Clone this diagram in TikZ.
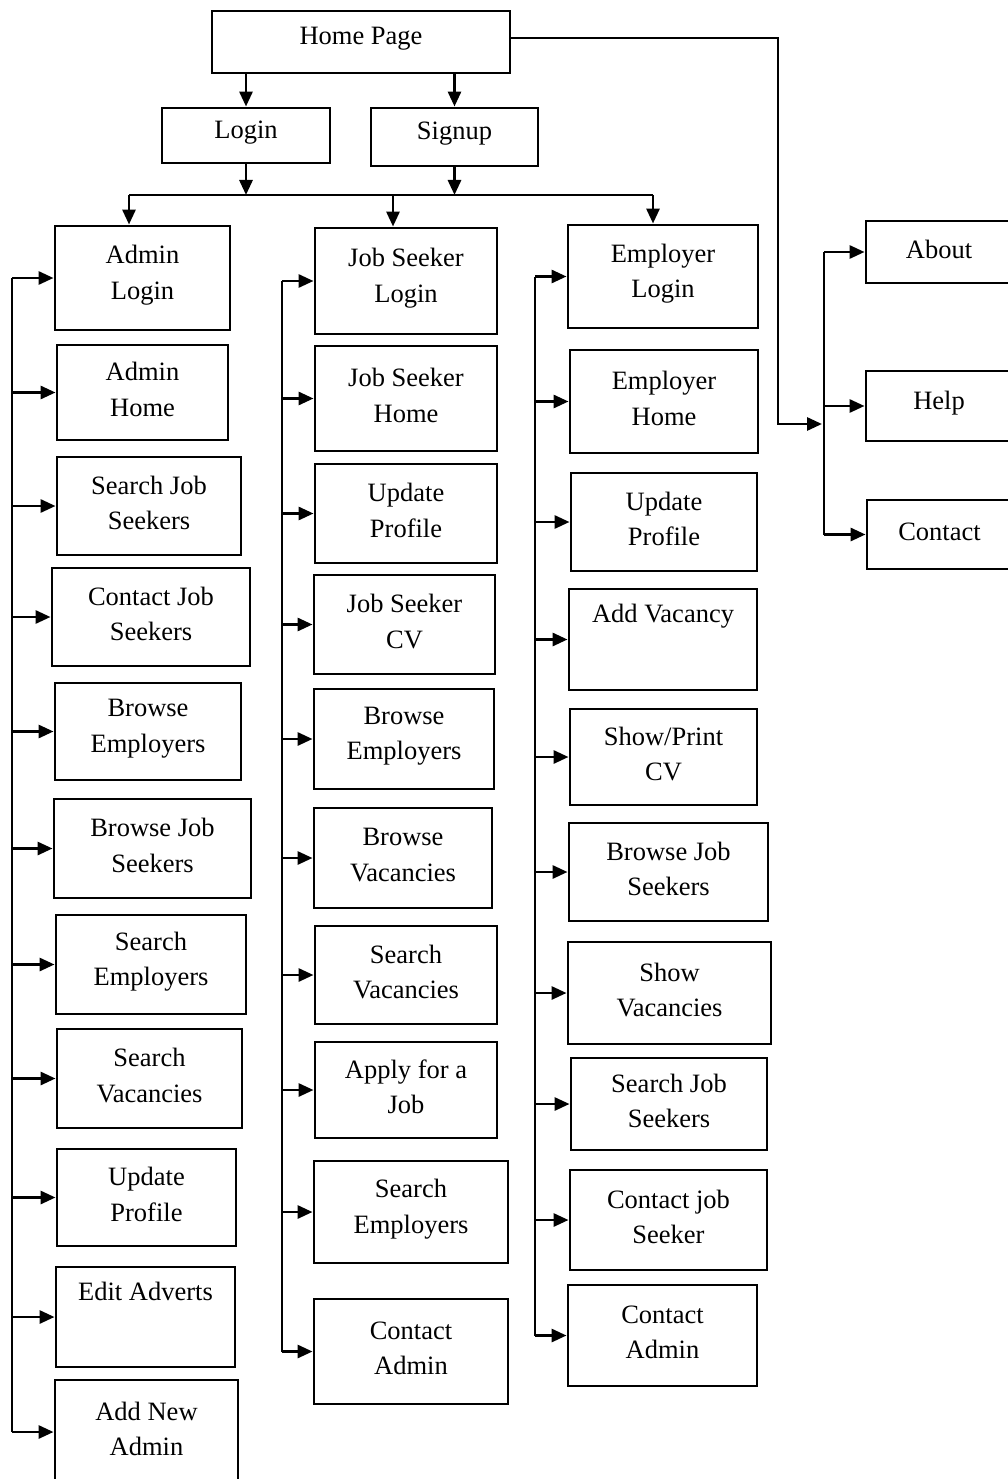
\documentclass[tikz,border=0pt]{standalone}
\usepackage{fontspec}
\setmainfont{Liberation Serif}
\usetikzlibrary{arrows.meta}
\tikzset{
  box/.style={draw, line width=2.9pt, inner sep=0pt},
  txt/.style={inner sep=0pt, align=center,
    font=\fontsize{26.5pt}{35.5pt}\selectfont},
  arr/.style={line width=2.9pt, -{Triangle[length=15pt,width=13pt]}},
  ln/.style={line width=2.9pt}
}
\newcommand\mybox[6]{\node[box, minimum width={#4-#2}, minimum height={#5-#3}] (#1) at ({(#2+#4)/2},{(#3+#5)/2}) {};
  \node[txt] (#1-t) at ([yshift=3pt]#1.center) {#6};}
\begin{document}
\begin{tikzpicture}[x=1pt,y=-1pt]
\useasboundingbox (0,0) rectangle (1008,1479);
\clip (0,0) rectangle (1008,1479);
% top
\mybox{home}{212}{11}{510}{73}{Home Page}
\mybox{login}{162}{108}{330}{163}{Login}
\mybox{signup}{371}{108}{538}{166}{Signup}
% admin column
\mybox{a1}{55}{226}{230}{330}{Admin\\Login}
\mybox{a2}{57}{345}{228}{440}{Admin\\Home}
\mybox{a3}{57}{457}{241}{555}{Search Job\\Seekers}
\mybox{a4}{52}{568}{250}{666}{Contact Job\\Seekers}
\mybox{a5}{55}{683}{241}{780}{Browse\\Employers}
\mybox{a6}{54}{799}{251}{898}{Browse Job\\Seekers}
\mybox{a7}{56}{915}{246}{1014}{Search\\Employers}
\mybox{a8}{57}{1029}{242}{1128}{Search\\Vacancies}
\mybox{a9}{57}{1149}{236}{1246}{Update\\Profile}
\mybox{a10}{56}{1267}{235}{1367}{Edit Adverts\\\strut}
\mybox{a11}{55}{1380}{238}{1484}{Add New\\Admin}
% job seeker column
\mybox{j1}{315}{228}{497}{334}{Job Seeker\\Login}
\mybox{j2}{315}{346}{497}{451}{Job Seeker\\Home}
\mybox{j3}{315}{464}{497}{563}{Update\\Profile}
\mybox{j4}{314}{575}{495}{674}{Job Seeker\\CV}
\mybox{j5}{314}{689}{494}{789}{Browse\\Employers}
\mybox{j6}{314}{808}{492}{908}{Browse\\Vacancies}
\mybox{j7}{315}{926}{497}{1024}{Search\\Vacancies}
\mybox{j8}{315}{1042}{497}{1138}{Apply for a\\Job}
\mybox{j9}{314}{1161}{508}{1263}{Search\\Employers}
\mybox{j10}{314}{1299}{508}{1404}{Contact\\Admin}
% employer column
\mybox{e1}{568}{225}{758}{328}{Employer\\Login}
\mybox{e2}{570}{350}{758}{453}{Employer\\Home}
\mybox{e3}{571}{473}{757}{571}{Update\\Profile}
\mybox{e4}{569}{589}{757}{690}{Add Vacancy\\\strut}
\mybox{e5}{570}{709}{757}{805}{Show/Print\\CV}
\mybox{e6}{569}{823}{768}{921}{Browse Job\\Seekers}
\mybox{e7}{568}{942}{771}{1044}{Show\\Vacancies}
\mybox{e8}{571}{1058}{767}{1150}{Search Job\\Seekers}
\mybox{e9}{570}{1170}{767}{1270}{Contact job\\Seeker}
\mybox{e10}{568}{1285}{757}{1386}{Contact\\Admin}
% right column
\mybox{about}{866}{221}{1012}{283}{About}
\mybox{help}{866}{371}{1012}{441}{Help}
\mybox{contact}{867}{500}{1012}{569}{Contact}
% top connectors
\draw[arr] (login.north |- home.south) -- (login.north);
\draw[arr] (signup.north |- home.south) -- (signup.north);
\coordinate (bus) at (0,195);
\coordinate (bA) at (129,195);
\coordinate (bJ) at (393,195);
\coordinate (bE) at (653,195);
\draw[arr] (login.south) -- (login.south |- bus);
\draw[arr] (signup.south) -- (signup.south |- bus);
\draw[ln] (bA) -- (bE);
\draw[arr] (bA) -- (bA |- a1.north);
\draw[arr] (bJ) -- (bJ |- j1.north);
\draw[arr] (bE) -- (bE |- e1.north);
% side buses
\coordinate (ax) at (12,0);
\coordinate (jx) at (282,0);
\coordinate (ex) at (535,0);
\draw[ln] (ax |- a1.west) -- (ax |- a11.west);
\foreach \n in {a1,a2,a3,a4,a5,a6,a7,a8,a9,a10,a11}
  \draw[arr] (ax |- \n.west) -- (\n.west);
\draw[ln] (jx |- j1.west) -- (jx |- j10.west);
\foreach \n in {j1,j2,j3,j4,j5,j6,j7,j8,j9,j10}
  \draw[arr] (jx |- \n.west) -- (\n.west);
\draw[ln] (ex |- e1.west) -- (ex |- e10.west);
\foreach \n in {e1,e2,e3,e4,e5,e6,e7,e8,e9,e10}
  \draw[arr] (ex |- \n.west) -- (\n.west);
% right branch
\coordinate (r1) at (778,0);
\coordinate (r2) at (824,0);
\coordinate (hp) at (0,38);
\coordinate (jn) at (822,424);
\draw[arr] (home.east |- hp) -| (r1 |- jn) -- (jn);
\draw[ln] (r2 |- about.west) -- (r2 |- contact.west);
\draw[arr] (r2 |- about.west) -- (about.west);
\draw[arr] (r2 |- help.west) -- (help.west);
\draw[arr] (r2 |- contact.west) -- (contact.west);
\end{tikzpicture}
\end{document}
